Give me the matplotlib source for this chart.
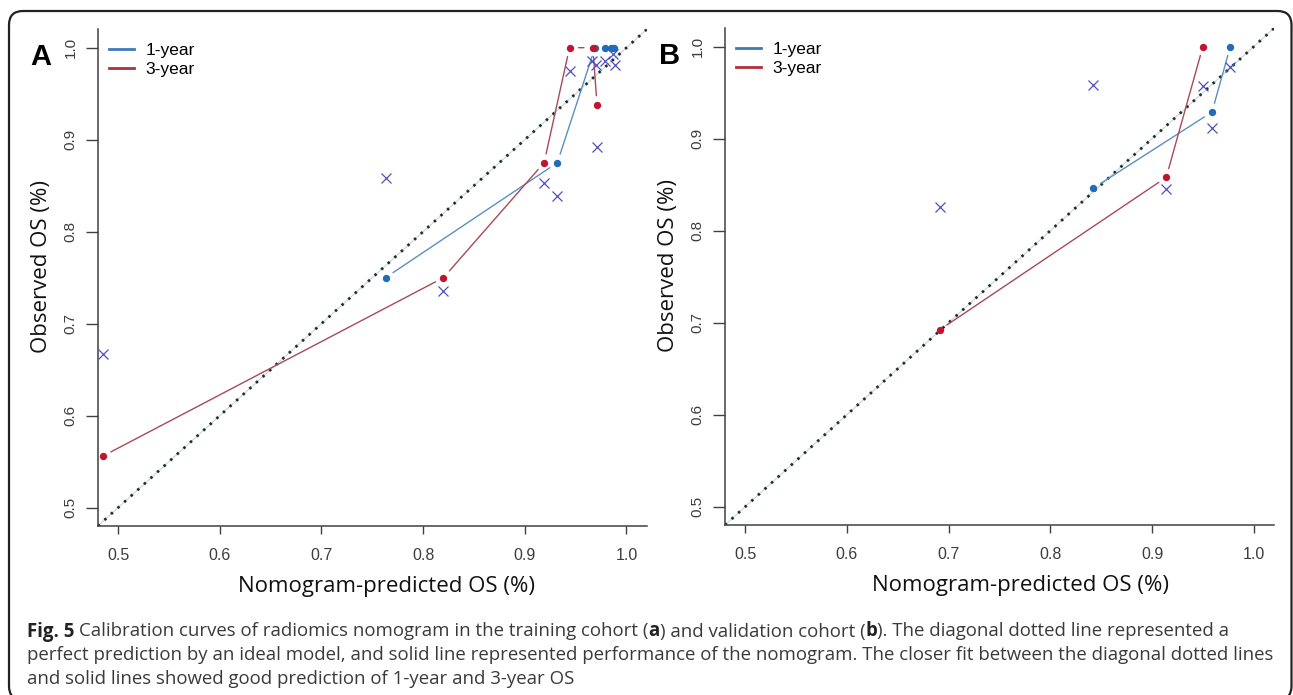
import numpy as np
import matplotlib
matplotlib.use('Agg')
import matplotlib.pyplot as plt
from matplotlib.lines import Line2D
from matplotlib.patches import FancyBboxPatch
from matplotlib.transforms import IdentityTransform

# panel A - training cohort
a_pred_1y = [0.763, 0.932, 0.969, 0.979, 0.985, 0.988]
a_obs_1y = [0.750, 0.875, 1.000, 1.000, 1.000, 1.000]
a_pred_3y = [0.485, 0.820, 0.919, 0.944, 0.967, 0.971]
a_obs_3y = [0.556, 0.750, 0.875, 1.000, 1.000, 0.938]
a_bc_x = [0.763, 0.932, 0.970, 0.979, 0.987, 0.989, 0.485, 0.820, 0.919, 0.944, 0.966, 0.971]
a_bc_y = [0.858, 0.839, 0.981, 0.985, 0.993, 0.981, 0.667, 0.735, 0.853, 0.975, 0.986, 0.892]

# panel B - validation cohort
b_pred_1y = [0.842, 0.959, 0.977]
b_obs_1y = [0.846, 0.929, 1.000]
b_pred_3y = [0.691, 0.914, 0.950]
b_obs_3y = [0.692, 0.858, 1.000]
b_bc_x = [0.842, 0.959, 0.977, 0.691, 0.914, 0.950]
b_bc_y = [0.958, 0.912, 0.978, 0.826, 0.845, 0.957]

ticks = [0.5, 0.6, 0.7, 0.8, 0.9, 1.0]
tick_labels = ['0.5', '0.6', '0.7', '0.8', '0.9', '1.0']
legend_labels = ['1-year', '3-year']

BLUE_PT, BLUE_LN = '#1f6cb8', '#5a8fc2'
RED_PT, RED_LN = '#c0152f', '#a84a58'
CROSS = '#4f4fc4'

plt.rcParams['font.family'] = ['Liberation Sans', 'DejaVu Sans']

W, H = 1293, 695
fig = plt.figure(figsize=(W / 100, H / 100), dpi=100)


def px_axes(l, t, r, b):
    return fig.add_axes([l / W, 1 - b / H, (r - l) / W, (b - t) / H])


def type_b(ax, xs, ys, line_col, pt_col, gap=6.5):
    # R style type="b": points, with segments stopping short of them
    ax.plot(xs, ys, 'o', color=pt_col, ms=5.3, mew=0, zorder=4)
    gap_px = gap * fig.dpi / 72
    for i in range(len(xs) - 1):
        p0 = ax.transData.transform((xs[i], ys[i]))
        p1 = ax.transData.transform((xs[i + 1], ys[i + 1]))
        if np.hypot(*(p1 - p0)) < 2 * gap_px + 1:
            continue
        ax.annotate('', xy=(xs[i + 1], ys[i + 1]), xytext=(xs[i], ys[i]),
                    arrowprops=dict(arrowstyle='-', color=line_col, lw=1.0,
                                    shrinkA=gap, shrinkB=gap), zorder=3)


def panel(ax, p1, o1, p3, o3, bx, by, xlab_x):
    ax.set_xlim(0.48, 1.02)
    ax.set_ylim(0.48, 1.02)
    for s in ['top', 'right']:
        ax.spines[s].set_visible(False)
    for s in ['left', 'bottom']:
        ax.spines[s].set_color('#404040')
        ax.spines[s].set_linewidth(1.1)
    ax.set_xticks(ticks, tick_labels)
    ax.set_yticks(ticks, tick_labels, rotation=90, va='center')
    ax.tick_params(axis='x', length=6, width=1.0, pad=10, labelsize=11.5,
                   labelcolor='#3c3c3c', color='#404040')
    ax.tick_params(axis='y', length=8.5, width=1.0, pad=6, labelsize=11,
                   labelcolor='#3c3c3c', color='#404040')

    ax.axline((0.5, 0.5), slope=1, color='#c9d6d6', lw=0.8, zorder=1)
    ax.axline((0.5, 0.5), slope=1, color='#1f2d2d', lw=2.0,
              linestyle=(0, (0.9, 2.3)), zorder=2)

    type_b(ax, p1, o1, BLUE_LN, BLUE_PT)
    type_b(ax, p3, o3, RED_LN, RED_PT)
    ax.plot(bx, by, 'x', color=CROSS, ms=6.5, mew=0.9, zorder=5)

    handles = [Line2D([], [], color='#3d7ab8', lw=2.0),
               Line2D([], [], color='#b0303c', lw=2.0)]
    ax.legend(handles, legend_labels, loc='upper left', bbox_to_anchor=(0.02, 0.973),
              frameon=False, borderpad=0, borderaxespad=0, handlelength=1.45,
              handletextpad=0.66, labelspacing=0.25, fontsize=12.5)

    ax.set_xlabel('Nomogram-predicted OS (%)', family='Open Sans', fontsize=16,
                  color='#111111', va='center')
    ax.xaxis.set_label_coords(xlab_x, -0.121)
    ax.set_ylabel('Observed OS (%)', family='Open Sans', fontsize=16,
                  color='#111111', va='center')
    ax.yaxis.set_label_coords(-0.103, 0.522)


axA = px_axes(97.8, 29.3, 646.8, 526)
axB = px_axes(725, 28.3, 1274, 525)
panel(axA, a_pred_1y, a_obs_1y, a_pred_3y, a_obs_3y, a_bc_x, a_bc_y, 0.526)
panel(axB, b_pred_1y, b_obs_1y, b_pred_3y, b_obs_3y, b_bc_x, b_bc_y, 0.539)

fig.text(40.5 / W, 1 - 57 / H, 'A', fontsize=21, fontweight='bold', ha='center', va='center')
fig.text(670 / W, 1 - 55.5 / H, 'B', fontsize=21, fontweight='bold', ha='center', va='center')

# rounded frame round the figure
frame = FancyBboxPatch((9, -5), 1282.5, 684 + 5, boxstyle='round,pad=0,rounding_size=14',
                       transform=IdentityTransform(), fill=False, ec='#222222', lw=1.6)
fig.add_artist(frame)

# caption, with bold pieces
cap_size = 13.4
renderer = fig.canvas.get_renderer()


def width_of(s, bold):
    t = fig.text(0, 0, s, fontsize=cap_size, family='Open Sans',
                 fontweight='bold' if bold else 'normal')
    w = t.get_window_extent(renderer).width
    t.remove()
    return w


space_w = width_of('x x', False) - width_of('xx', False)

caption = [
    [('Fig. 5', True), (' ', False), ('Calibration curves of radiomics nomogram in the training cohort (', False),
     ('a', True), (') and validation cohort (', False), ('b', True),
     ('). The diagonal dotted line represented a', False)],
    [('perfect prediction by an ideal model, and solid line represented performance of the nomogram. '
      'The closer fit between the diagonal dotted lines', False)],
    [('and solid lines showed good prediction of 1-year and 3-year OS', False)],
]
baselines = [636.5, 660, 683.5]

for parts, yb in zip(caption, baselines):
    x = 26.7
    for s, bold in parts:
        if s == ' ':
            x += space_w
            continue
        t = fig.text(x, H - yb, s, fontsize=cap_size, family='Open Sans',
                     fontweight='bold' if bold else 'normal',
                     color='#222222' if bold else '#3a3a3a',
                     va='baseline', ha='left', transform=IdentityTransform())
        x += t.get_window_extent(renderer).width

fig.savefig('out.png', dpi=100)
